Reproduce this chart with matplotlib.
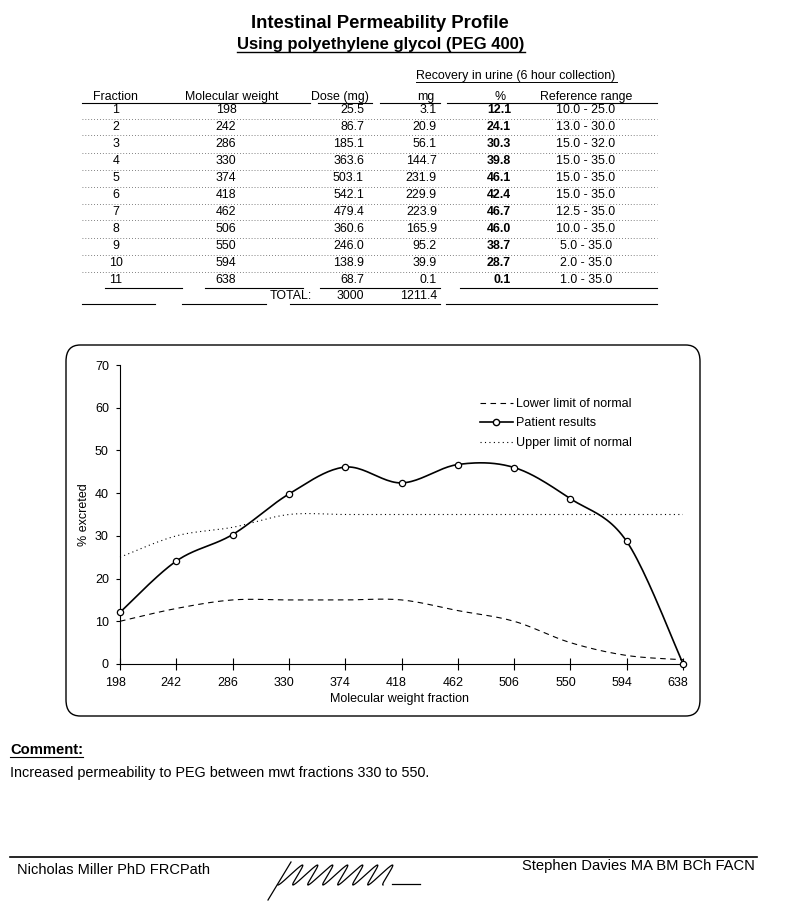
import matplotlib
matplotlib.use("Agg")
import matplotlib.pyplot as plt
import matplotlib.transforms as mtransforms
from matplotlib.lines import Line2D
from matplotlib.patches import FancyBboxPatch
import numpy as np

plt.rcParams['font.family'] = ['Liberation Sans', 'DejaVu Sans']

# table data
fractions = [1, 2, 3, 4, 5, 6, 7, 8, 9, 10, 11]
mol_weight = [198, 242, 286, 330, 374, 418, 462, 506, 550, 594, 638]
dose_mg = [25.5, 86.7, 185.1, 363.6, 503.1, 542.1, 479.4, 360.6, 246.0, 138.9, 68.7]
urine_mg = [3.1, 20.9, 56.1, 144.7, 231.9, 229.9, 223.9, 165.9, 95.2, 39.9, 0.1]
urine_pct = [12.1, 24.1, 30.3, 39.8, 46.1, 42.4, 46.7, 46.0, 38.7, 28.7, 0.1]
ref_low = [10.0, 13.0, 15.0, 15.0, 15.0, 15.0, 12.5, 10.0, 5.0, 2.0, 1.0]
ref_high = [25.0, 30.0, 32.0, 35.0, 35.0, 35.0, 35.0, 35.0, 35.0, 35.0, 35.0]
dose_total = "3000"
urine_total = "1211.4"

W, H = 790, 902


def fx(x):
    return x / W


def fy(y):
    return 1 - y / H


def smooth(vals, n=24):
    """Excel style smoothed line (Bezier through the points)."""
    pts = np.column_stack([np.arange(len(vals)), vals]).astype(float)
    pad = np.vstack([pts[0], pts, pts[-1]])
    t = np.linspace(0, 1, n)[:, None]
    out = []
    for i in range(len(pts) - 1):
        p0, p1, p2, p3 = pad[i], pad[i + 1], pad[i + 2], pad[i + 3]
        c1 = p1 + (p2 - p0) / 6
        c2 = p2 - (p3 - p1) / 6
        seg = (1 - t)**3 * p1 + 3 * (1 - t)**2 * t * c1 + 3 * (1 - t) * t**2 * c2 + t**3 * p2
        out.append(seg if i == 0 else seg[1:])
    return np.vstack(out)


def hline(y, x0, x1, **kw):
    kw.setdefault('color', 'black')
    kw.setdefault('lw', 0.8)
    fig.add_artist(Line2D([fx(x0), fx(x1)], [fy(y), fy(y)], **kw))


fig = plt.figure(figsize=(7.9, 9.02), dpi=100)

# titles
fig.text(fx(380), fy(23), "Intestinal Permeability Profile", ha='center', va='center',
         fontsize=13.3, fontweight='bold')
fig.text(fx(381), fy(44), "Using polyethylene glycol (PEG 400)", ha='center', va='center',
         fontsize=12, fontweight='bold')
hline(52, 237, 525, lw=1.0)

# table
ts = 8.9
fig.text(fx(516), fy(76), "Recovery in urine (6 hour collection)", ha='center', va='center', fontsize=ts)
hline(82, 416, 617, lw=0.7)
hy = 97
fig.text(fx(115), fy(hy), "Fraction", ha='center', va='center', fontsize=ts)
fig.text(fx(232), fy(hy), "Molecular weight", ha='center', va='center', fontsize=ts)
fig.text(fx(340), fy(hy), "Dose (mg)", ha='center', va='center', fontsize=ts)
fig.text(fx(426), fy(hy), "mg", ha='center', va='center', fontsize=ts)
fig.text(fx(500), fy(hy), "%", ha='center', va='center', fontsize=ts)
fig.text(fx(586), fy(hy), "Reference range", ha='center', va='center', fontsize=ts)
for a, b in [(82, 310), (318, 372), (380, 440), (447, 657)]:
    hline(102.5, a, b)

row_y = 110
for i in range(len(fractions)):
    y = row_y + 17 * i
    fig.text(fx(116), fy(y), str(fractions[i]), ha='center', va='center', fontsize=ts)
    fig.text(fx(226), fy(y), str(mol_weight[i]), ha='center', va='center', fontsize=ts)
    fig.text(fx(364), fy(y), f"{dose_mg[i]:.1f}", ha='right', va='center', fontsize=ts)
    fig.text(fx(437), fy(y), f"{urine_mg[i]:.1f}", ha='right', va='center', fontsize=ts)
    fig.text(fx(511), fy(y), f"{urine_pct[i]:.1f}", ha='right', va='center', fontsize=ts,
             fontweight='bold')
    fig.text(fx(586), fy(y), f"{ref_low[i]:.1f} - {ref_high[i]:.1f}", ha='center', va='center',
             fontsize=ts)
    if i < len(fractions) - 1:
        hline(y + 8.5, 82, 657, lw=0.6, ls=(0, (1, 2.5)), color='0.35')

for a, b in [(105, 182), (205, 303), (320, 440), (460, 657)]:
    hline(288, a, b)
fig.text(fx(312), fy(296), "TOTAL:", ha='right', va='center', fontsize=ts)
fig.text(fx(364), fy(296), dose_total, ha='right', va='center', fontsize=ts)
fig.text(fx(437), fy(296), urine_total, ha='right', va='center', fontsize=ts)
for a, b in [(82, 155), (182, 266), (290, 440), (446, 657)]:
    hline(304, a, b)

# chart frame
frame = FancyBboxPatch((fx(66), fy(716)), fx(700) - fx(66), fy(345) - fy(716),
                       boxstyle="round,pad=0,rounding_size=0.018", transform=fig.transFigure,
                       fill=False, ec='black', lw=1.0)
fig.add_artist(frame)

ax = fig.add_axes([fx(120), fy(664), fx(683) - fx(120), fy(365) - fy(664)])
ax.set_facecolor('none')
x = np.arange(len(mol_weight))

lo = smooth(ref_low)
hi = smooth(ref_high)
pt = smooth(urine_pct)
ax.plot(lo[:, 0], lo[:, 1], color='black', lw=0.8, ls=(0, (5, 4)), clip_on=False)
ax.plot(hi[:, 0], hi[:, 1], color='black', lw=0.8, ls=(0, (1, 3)), clip_on=False)
ax.plot(pt[:, 0], pt[:, 1], color='black', lw=1.2, clip_on=False)
ax.plot(x, urine_pct, ls='none', marker='o', ms=4.5, mfc='white', mec='black', mew=0.9,
        clip_on=False, zorder=3)

ax.set_xlim(0, 10)
ax.set_ylim(0, 70)
ax.set_xticks(x)
ax.set_xticklabels([str(m) for m in mol_weight])
ax.set_yticks(range(0, 71, 10))
for s in ['top', 'right']:
    ax.spines[s].set_visible(False)
for s in ['left', 'bottom']:
    ax.spines[s].set_linewidth(0.8)
ax.tick_params(axis='y', direction='out', length=3, width=0.8, pad=5, labelsize=9)
ax.tick_params(axis='x', direction='inout', length=8, width=0.8, pad=5, labelsize=9)
shift = mtransforms.ScaledTranslation(-5 / 100, 0, fig.dpi_scale_trans)
for lab in ax.get_xticklabels():
    lab.set_transform(lab.get_transform() + shift)

fig.text(fx(400), fy(699), "Molecular weight fraction", ha='center', va='center', fontsize=9)
fig.text(fx(84), fy(515), "% excreted", ha='center', va='center', rotation=90, fontsize=9)

handles = [
    Line2D([], [], color='black', lw=0.8, ls=(0, (5, 4))),
    Line2D([], [], color='black', lw=1.2, marker='o', ms=4.5, mfc='white', mec='black'),
    Line2D([], [], color='black', lw=0.8, ls=(0, (1, 3))),
]
fig.legend(handles, ["Lower limit of normal", "Patient results", "Upper limit of normal"],
           loc='upper left', bbox_to_anchor=(fx(480), fy(398)), frameon=False, fontsize=9,
           handlelength=2.6, handletextpad=0.3, labelspacing=0.6, borderpad=0, borderaxespad=0)

# comment and signatures
fig.text(fx(10), fy(750), "Comment:", ha='left', va='center', fontsize=10.6, fontweight='bold')
hline(757, 10, 83, lw=0.8)
fig.text(fx(10), fy(773), "Increased permeability to PEG between mwt fractions 330 to 550.",
         ha='left', va='center', fontsize=10.4)
hline(857, 10, 757, lw=1.2)
fig.text(fx(17), fy(870), "Nicholas Miller PhD FRCPath", ha='left', va='center', fontsize=10.5)
fig.text(fx(755), fy(866), "Stephen Davies MA BM BCh FACN", ha='right', va='center', fontsize=10.6)

# scribbled signature
t = np.linspace(0, 1, 600)
sig_y = 885 - 10 * (1 - np.cos(2 * np.pi * 7 * t))
sig_x = 282 + 105 * t - 4 * np.cos(2 * np.pi * 7 * t) + 0.45 * (885 - sig_y)
fig.add_artist(Line2D(fx(sig_x), fy(sig_y), color='black', lw=0.9))
fig.add_artist(Line2D([fx(268), fx(291)], [fy(900), fy(862)], color='black', lw=0.9))
hline(884, 392, 420, lw=0.9)

fig.savefig("out.png", dpi=100)
